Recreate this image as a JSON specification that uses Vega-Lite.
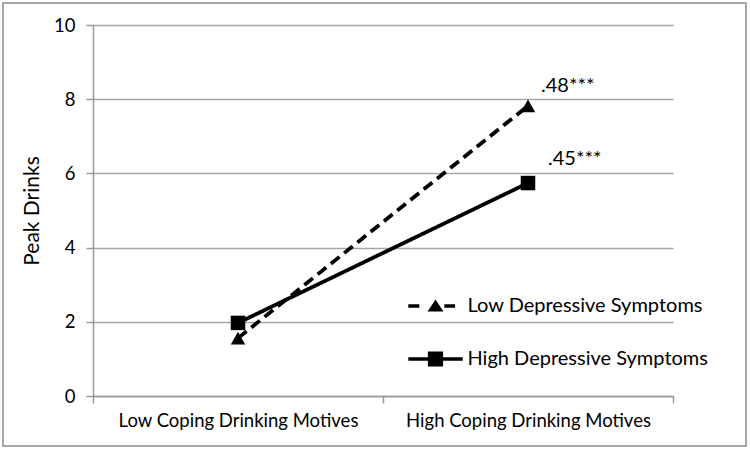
{
  "$schema": "https://vega.github.io/schema/vega-lite/v6.json",
  "width": 743,
  "height": 443,
  "autosize": "none",
  "padding": {"left": 3, "top": 3, "right": 4, "bottom": 6},
  "background": "white",
  "config": {
    "view": {"stroke": "#8c8c8c", "strokeWidth": 1.5},
    "font": "Lato"
  },
  "datasets": {
    "main": [
      {"motive": "Low Coping Drinking Motives", "group": "Low Depressive Symptoms", "drinks": 1.56},
      {"motive": "High Coping Drinking Motives", "group": "Low Depressive Symptoms", "drinks": 7.82},
      {"motive": "Low Coping Drinking Motives", "group": "High Depressive Symptoms", "drinks": 1.97},
      {"motive": "High Coping Drinking Motives", "group": "High Depressive Symptoms", "drinks": 5.74}
    ],
    "notes": [
      {"motive": "High Coping Drinking Motives", "label": ".48***", "drinks": 8.36},
      {"motive": "High Coping Drinking Motives", "label": ".45***", "drinks": 6.4}
    ]
  },
  "data": {"name": "main"},
  "encoding": {
    "x": {
      "field": "motive",
      "type": "nominal",
      "sort": ["Low Coping Drinking Motives", "High Coping Drinking Motives"],
      "scale": {"type": "band", "range": [90, 670], "paddingInner": 0, "paddingOuter": 0},
      "axis": {
        "title": null,
        "offset": -50,
        "grid": false,
        "tickBand": "extent",
        "domainColor": "#999999",
        "domainWidth": 1.5,
        "tickColor": "#999999",
        "tickWidth": 1.5,
        "tickSize": 7,
        "labelFont": "Lato",
        "labelFontSize": 18.5,
        "labelLimit": 400,
        "labelColor": "#000000",
        "labelPadding": 8,
        "labelAngle": 0
      }
    },
    "y": {
      "field": "drinks",
      "type": "quantitative",
      "scale": {"domain": [0, 10], "range": [393, 22], "nice": false},
      "axis": {
        "title": "Peak Drinks",
        "offset": -90,
        "values": [0, 2, 4, 6, 8, 10],
        "grid": true,
        "gridColor": "#a6a6a6",
        "gridWidth": 1.5,
        "domainColor": "#999999",
        "domainWidth": 1.5,
        "tickColor": "#999999",
        "tickWidth": 1.5,
        "tickSize": 7,
        "labelFont": "Lato",
        "labelFontSize": 18.5,
        "labelColor": "#000000",
        "labelPadding": 11,
        "titleFont": "Lato",
        "titleFontSize": 21,
        "titleFontWeight": "normal",
        "titleColor": "#000000",
        "titlePadding": 11
      }
    }
  },
  "resolve": {"scale": {"shape": "independent"}, "legend": {"shape": "independent"}},
  "layer": [
    {
      "mark": {"type": "line", "color": "black", "strokeWidth": 3.8},
      "encoding": {
        "strokeDash": {
          "field": "group",
          "type": "nominal",
          "scale": {"domain": ["Low Depressive Symptoms", "High Depressive Symptoms"], "range": [[11, 6], [1, 0]]},
          "legend": null
        }
      }
    },
    {
      "mark": {"type": "point", "filled": true, "color": "black", "opacity": 1, "size": 210},
      "encoding": {
        "shape": {
          "field": "group",
          "type": "nominal",
          "scale": {"domain": ["Low Depressive Symptoms", "High Depressive Symptoms"], "range": ["triangle-up", "square"]},
          "legend": null
        }
      }
    },
    {
      "mark": {"type": "point", "filled": true, "color": "black", "opacity": 1, "size": 0},
      "encoding": {
        "shape": {
          "field": "group",
          "type": "nominal",
          "scale": {
            "domain": ["Low Depressive Symptoms", "High Depressive Symptoms"],
            "range": [
              "M-1.36,-0.09H-0.81V0.09H-1.36Z M0.44,-0.09H0.98V0.09H0.44Z M-0.4,0.28L0,-0.32L0.4,0.28Z",
              "M-1.36,-0.09H1.36V0.09H-1.36Z M-0.38,-0.38H0.38V0.38H-0.38Z"
            ]
          },
          "legend": {
            "title": null,
            "orient": "none",
            "legendX": 412.5,
            "legendY": 283,
            "padding": 0,
            "symbolSize": 1600,
            "symbolFillColor": "black",
            "symbolStrokeWidth": 0,
            "symbolOpacity": 1,
            "labelOffset": 12,
            "labelFont": "Lato",
            "labelFontSize": 20,
            "labelLimit": 400,
            "labelColor": "#000000",
            "rowPadding": 23
          }
        }
      }
    },
    {
      "data": {"name": "notes"},
      "transform": [{"filter": "datum.label === '.48***'"}],
      "mark": {"type": "text", "align": "left", "baseline": "middle", "dx": 13, "fontSize": 20, "font": "Lato", "color": "black"},
      "encoding": {"text": {"field": "label"}}
    },
    {
      "data": {"name": "notes"},
      "transform": [{"filter": "datum.label === '.45***'"}],
      "mark": {"type": "text", "align": "left", "baseline": "middle", "dx": 20, "fontSize": 20, "font": "Lato", "color": "black"},
      "encoding": {"text": {"field": "label"}}
    }
  ]
}
